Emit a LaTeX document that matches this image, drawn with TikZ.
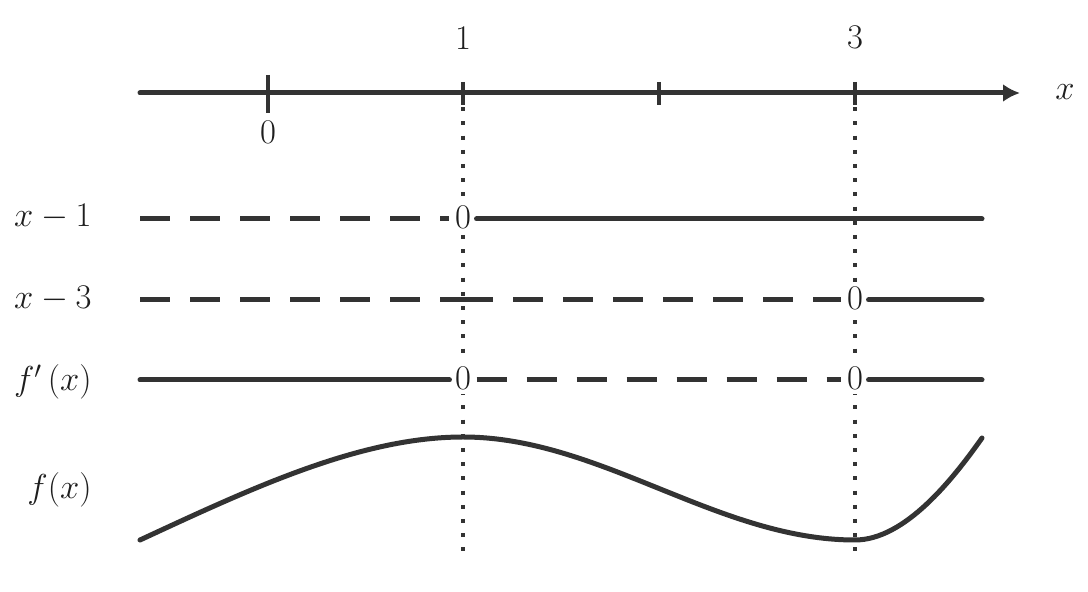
\RequirePackage{fix-cm}
\documentclass[tikz,border=0pt]{standalone}
\usetikzlibrary{arrows.meta}
\definecolor{ink}{RGB}{51,51,51}
\definecolor{txt}{RGB}{30,30,30}
\tikzset{
  lbl/.style={font=\fontsize{17.3}{20}\selectfont, text=txt, inner sep=0pt},
  zerolbl/.style={font=\fontsize{17.3}{20}\selectfont, text=txt, fill=white, inner sep=2.6pt},
  solidline/.style={draw=ink, line width=2.5pt, line cap=round},
  dashline/.style={draw=ink, line width=2.5pt, line cap=butt, dash pattern=on 15pt off 10pt},
  guideline/.style={draw=ink, line width=2pt, line cap=butt, dash pattern=on 2pt off 5.1pt},
  tickmark/.style={draw=ink, line width=2.4pt, line cap=butt},
  axisline/.style={draw=ink, line width=2.5pt, line cap=round, -{Latex[length=8.5pt,width=9pt]}},
}
\begin{document}
\begin{tikzpicture}[x=0.5pt,y=-0.5pt]
\useasboundingbox (0,0) rectangle (1088,592);
% guide coordinates
\coordinate (g1t) at (463,93);
\coordinate (g1b) at (463,551);
\coordinate (g3t) at (855,93);
\coordinate (g3b) at (855,551);
\draw[guideline] (g1t) -- (g1b);
\draw[guideline] (g3t) -- (g3b);
% axis
\coordinate (A0) at (140,93);
\coordinate (A1) at (1020,93);
\draw[axisline] (A0) -- (A1);
\coordinate (t0a) at (268,75);  \coordinate (t0b) at (268,113);
\coordinate (t1a) at (463,82);  \coordinate (t1b) at (463,105);
\coordinate (t2a) at (659,82);  \coordinate (t2b) at (659,105);
\coordinate (t3a) at (855,82);  \coordinate (t3b) at (855,105);
\draw[tickmark] (t0a) -- (t0b);
\draw[tickmark] (t1a) -- (t1b);
\draw[tickmark] (t2a) -- (t2b);
\draw[tickmark] (t3a) -- (t3b);
\node[lbl, anchor=base] (n1) at (463,50) {$1$};
\node[lbl, anchor=base] (n3) at (855,49) {$3$};
\node[lbl, anchor=base] (n0) at (268,144) {$0$};
\node[lbl, anchor=base west] (xl) at (1055,100) {$x$};
% row labels
\node[lbl, anchor=base east] (r1) at (92,227) {$x-1$};
\node[lbl, anchor=base east] (r2) at (92,309) {$x-3$};
\node[lbl, anchor=base east] (r3) at (92,391) {$f'\,(x)$};
\node[lbl, anchor=base east] (r4) at (92,499) {$f(x)$};
% row x-1
\coordinate (L1) at (140,219);
\coordinate (R1) at (982,219);
\node[zerolbl] (z11) at (463,217) {$0$};
\draw[dashline] (L1) -- (L1 -| z11.west);
\draw[solidline] (z11.east |- R1) -- (R1);
% row x-3
\coordinate (L2) at (140,300);
\coordinate (M2) at (463,300);
\coordinate (R2) at (982,300);
\node[zerolbl] (z23) at (855,298) {$0$};
\draw[dashline] (L2) -- (M2);
\draw[dashline] (M2) -- (M2 -| z23.west);
\draw[solidline] (z23.east |- R2) -- (R2);
% row f'
\coordinate (L3) at (140,380);
\coordinate (R3) at (982,380);
\node[zerolbl] (z31) at (463,378) {$0$};
\node[zerolbl] (z33) at (855,378) {$0$};
\draw[solidline] (L3) -- (L3 -| z31.west);
\draw[dashline] (z31.east |- L3) -- (L3 -| z33.west);
\draw[solidline] (z33.east |- R3) -- (R3);
% curve
\coordinate (C0) at (140,540);
\coordinate (Cmax) at (463,437);
\coordinate (Cmin) at (855,540);
\coordinate (C3) at (982,438);
\draw[solidline] (C0) .. controls (250,489) and (360,437) .. (Cmax)
  .. controls (600,437) and (718,540) .. (Cmin)
  .. controls (905,540) and (953,479) .. (C3);
\end{tikzpicture}
\end{document}
